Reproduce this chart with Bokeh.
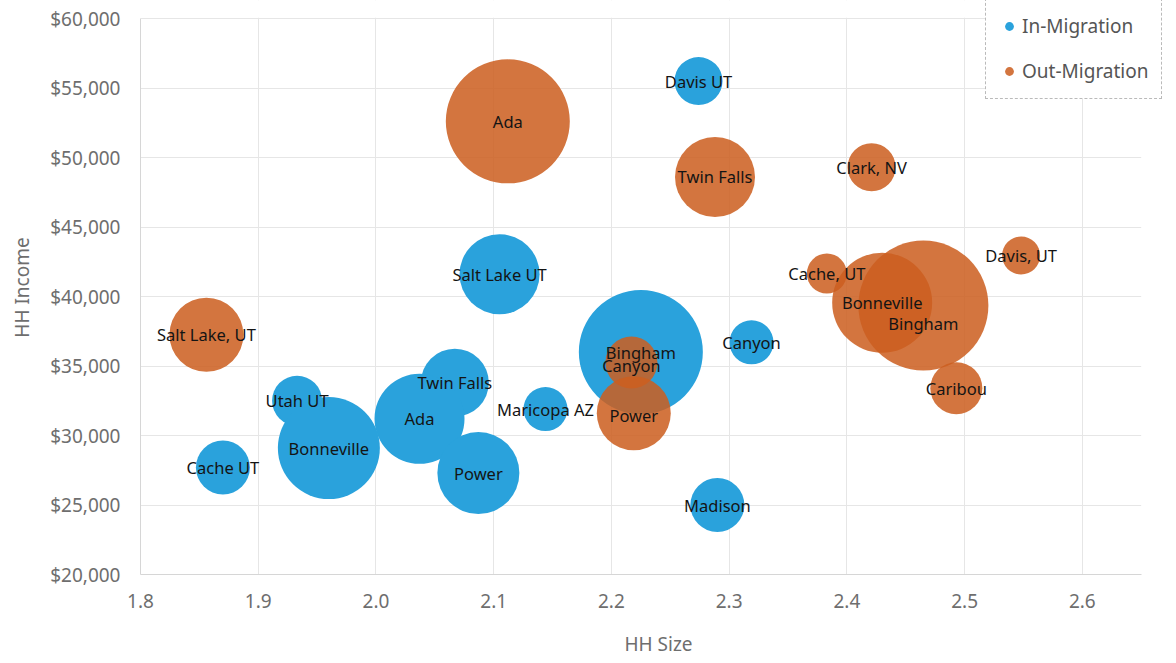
from bokeh.plotting import figure
from bokeh.models import (ColumnDataSource, FixedTicker, NumeralTickFormatter, Legend,
                          LegendItem, BoxAnnotation)
from bokeh.embed import file_html
from bokeh.resources import INLINE
from bokeh.core.properties import value
import math

# ---------------- data ----------------
in_names = ["Davis UT", "Salt Lake UT", "Bingham", "Canyon", "Twin Falls", "Ada",
            "Maricopa AZ", "Utah UT", "Bonneville", "Cache UT", "Power", "Madison"]
in_size = [2.274, 2.105, 2.225, 2.319, 2.067, 2.037, 2.144, 1.933, 1.960, 1.870, 2.087, 2.290]
in_income = [55500, 41600, 36000, 36700, 33800, 31200, 31900, 32500, 29100, 27700, 27300, 25000]
in_movers = [576, 1600, 3844, 484, 1156, 2025, 484, 625, 2601, 729, 1681, 729]

out_names = ["Ada", "Twin Falls", "Clark, NV", "Davis, UT", "Cache, UT", "Bonneville",
             "Bingham", "Caribou", "Salt Lake, UT", "Canyon", "Power"]
out_size = [2.112, 2.288, 2.421, 2.548, 2.383, 2.430, 2.465, 2.493, 1.856, 2.217, 2.219]
out_income = [52600, 48600, 49300, 42950, 41650, 39550, 39350, 33400, 37250, 35250, 31600]
out_movers = [3844, 1600, 576, 361, 400, 2500, 4225, 676, 1369, 676, 1369]
out_label_dy = [0, 0, 0, 0, 0, 0, 18, 0, 0, 3, 2]

x_ticks = [1.8, 1.9, 2.0, 2.1, 2.2, 2.3, 2.4, 2.5, 2.6]
y_ticks = [20000, 25000, 30000, 35000, 40000, 45000, 50000, 55000, 60000]
X_MIN, X_MAX = 1.8, 2.65
Y_MIN, Y_MAX = 20000, 60000

BLUE = "#2aa2dc"
ORANGE = "#cc5e1f"
FONT = "Noto Sans"

in_src = ColumnDataSource(dict(x=in_size, y=in_income, name=in_names,
                               d=[2 * math.sqrt(v) for v in in_movers]))
out_src = ColumnDataSource(dict(x=out_size, y=out_income, name=out_names,
                                d=[2 * math.sqrt(v) for v in out_movers], dy=out_label_dy))

# frame: left 140, top 0, right 1176, bottom 574 (page px); data area 1.8-2.65 x 20k-60k
p = figure(width=1176, height=663, x_range=(1.8, 2.6800), y_range=(20000, 61295),
           output_backend="svg", toolbar_location=None,
           min_border_left=140, min_border_right=0, min_border_top=0, min_border_bottom=89)
p.outline_line_color = None
p.background_fill_color = "white"

p.xgrid.grid_line_color = "#e6e6e6"
p.ygrid.grid_line_color = "#e6e6e6"
p.xgrid.ticker = FixedTicker(ticks=x_ticks)
p.ygrid.ticker = FixedTicker(ticks=y_ticks)

# blank the margin of the frame outside the data area
p.add_layout(BoxAnnotation(left=X_MAX, fill_color="white", fill_alpha=1.0,
                           line_color=None, level="underlay"))
p.add_layout(BoxAnnotation(bottom=Y_MAX + 60, fill_color="white", fill_alpha=1.0,
                           line_color=None, level="underlay"))

r_in = p.scatter("x", "y", size="d", source=in_src, fill_color=BLUE, fill_alpha=1.0,
                 line_color=None)
r_out = p.scatter("x", "y", size="d", source=out_src, fill_color=ORANGE, fill_alpha=0.86,
                  line_color=None)

p.text("x", "y", text="name", source=in_src, text_align="center", text_baseline="middle",
       text_font=value(FONT), text_font_size="16.5px", text_color="#141414")
p.text("x", "y", text="name", source=out_src, y_offset="dy", text_align="center",
       text_baseline="middle", text_font=value(FONT), text_font_size="16.5px",
       text_color="#141414")

# axes
p.xaxis.ticker = FixedTicker(ticks=x_ticks)
p.yaxis.ticker = FixedTicker(ticks=y_ticks)
p.xaxis.bounds = (X_MIN, X_MAX)
p.yaxis.bounds = (Y_MIN, Y_MAX)
p.xaxis.formatter = NumeralTickFormatter(format="0.0")
p.yaxis.formatter = NumeralTickFormatter(format="$0,0")
p.xaxis.axis_label = "HH Size"
p.yaxis.axis_label = "HH Income"
for ax in (p.xaxis, p.yaxis):
    ax.major_tick_line_color = None
    ax.minor_tick_line_color = None
    ax.major_tick_out = 0
    ax.major_tick_in = 0
    ax.axis_line_color = "#d6d6d6"
    ax.major_label_text_font = FONT
    ax.major_label_text_font_size = "19px"
    ax.major_label_text_color = "#6e6e6e"
    ax.axis_label_text_font = FONT
    ax.axis_label_text_font_size = "19px"
    ax.axis_label_text_font_style = "normal"
    ax.axis_label_text_color = "#6e6e6e"
p.xaxis.major_label_standoff = 19
p.xaxis.axis_label_standoff = 20
p.yaxis.major_label_standoff = 20
p.yaxis.axis_label_standoff = 12

legend = Legend(items=[LegendItem(label="In-Migration", renderers=[r_in]),
                       LegendItem(label="Out-Migration", renderers=[r_out])],
                location=(845, 475), orientation="vertical")
legend.border_line_color = "#777777"
legend.border_line_dash = "2 2"
legend.border_line_width = 1.5
legend.background_fill_color = "white"
legend.background_fill_alpha = 1.0
legend.padding = 12
legend.spacing = 15
legend.glyph_width = 22
legend.glyph_height = 30
legend.label_height = 30
legend.label_standoff = 2
legend.margin = 0
legend.label_text_font = FONT
legend.label_text_font_size = "19px"
legend.label_text_color = "#555555"
p.add_layout(legend, "center")

open("out.html", "w").write(file_html(p, INLINE))
